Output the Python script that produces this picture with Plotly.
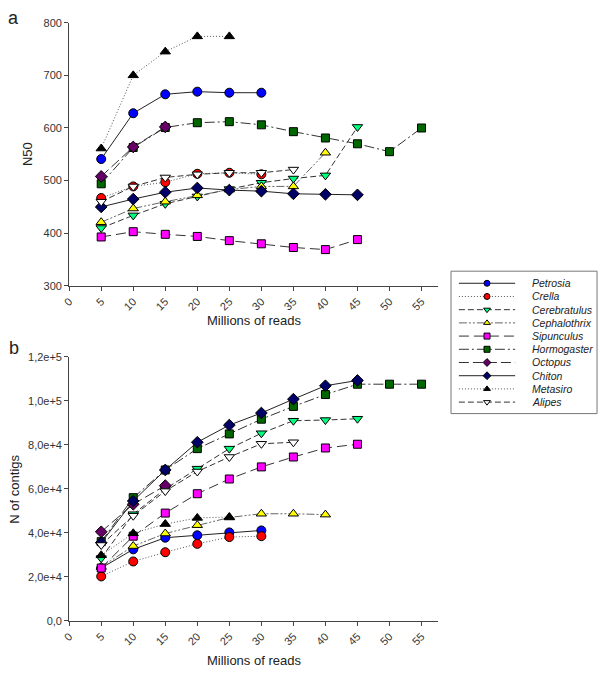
import plotly.graph_objects as go

# ---------------- data ----------------
species = ["Petrosia", "Crella", "Cerebratulus", "Cephalothrix", "Sipunculus",
           "Hormogaster", "Octopus", "Chiton", "Metasiro", "Alipes"]

reads = [5, 10, 15, 20, 25, 30, 35, 40, 45, 50, 55]

n50 = {
    "Petrosia":     [541, 628, 664, 669, 667, 667],
    "Crella":       [467, 489, 497, 513, 515, 512],
    "Cerebratulus": [410, 434, 456, 470, 484, 496, 504, 510, 602],
    "Cephalothrix": [421, 447, 460, 472, 483, 489, 489, 553],
    "Sipunculus":   [393, 403, 398, 394, 386, 380, 373, 369, 388],
    "Hormogaster":  [494, 563, 601, 610, 612, 606, 593, 581, 570, 555, 600],
    "Octopus":      [508, 564, 602],
    "Chiton":       [450, 465, 478, 486, 482, 480, 475, 474, 473],
    "Metasiro":     [561, 700, 745, 774, 774],
    "Alipes":       [460, 489, 506, 512, 515, 515, 521],
}

contigs = {
    "Petrosia":     [24000, 32500, 37800, 38900, 40200, 41100],
    "Crella":       [20200, 27000, 31200, 35000, 38100, 38500],
    "Cerebratulus": [28500, 48500, 60000, 69200, 78300, 85300, 91000, 91300, 91900],
    "Cephalothrix": [24500, 34000, 39700, 43500, 47000, 48700, 48700, 48300],
    "Sipunculus":   [24000, 38500, 49000, 57800, 64500, 70000, 74500, 78600, 80300],
    "Hormogaster":  [36000, 56000, 68600, 78300, 85000, 91700, 97500, 102900, 107600, 107600, 107600],
    "Octopus":      [40500, 53000, 61500],
    "Chiton":       [35500, 54500, 68600, 81200, 89000, 94500, 100800, 106900, 109300],
    "Metasiro":     [29800, 39800, 44000, 46800, 47200],
    "Alipes":       [34500, 47800, 59000, 67900, 74500, 80500, 81200],
}

x_ticks = [0, 5, 10, 15, 20, 25, 30, 35, 40, 45, 50, 55]
n50_ticks = [300, 400, 500, 600, 700, 800]
contig_ticks = [0, 20000, 40000, 60000, 80000, 100000, 120000]
contig_ticklabels = ["0,0", "2,0e+4", "4,0e+4", "6,0e+4", "8,0e+4", "1,0e+5", "1,2e+5"]

# ---------------- styles ----------------
style = {
    "Petrosia":     dict(color="#0000FF", symbol="circle", size=9, dash="solid", lc="#222222"),
    "Crella":       dict(color="#FF0000", symbol="circle", size=9, dash="1px,2px", lc="#555555"),
    "Cerebratulus": dict(color="#00FF7F", symbol="triangle-down", size=9, dash="6px,3px", lc="#333333"),
    "Cephalothrix": dict(color="#FFFF00", symbol="triangle-up", size=9, dash="8px,2px,2px,2px,2px,2px", lc="#666666"),
    "Sipunculus":   dict(color="#FF00FF", symbol="square", size=8, dash="10px,5px", lc="#333333"),
    "Hormogaster":  dict(color="#006600", symbol="square", size=8, dash="10px,3px,2px,3px", lc="#333333"),
    "Octopus":      dict(color="#660066", symbol="diamond", size=9, dash="10px,4px", lc="#333333"),
    "Chiton":       dict(color="#000066", symbol="diamond", size=9, dash="solid", lc="#222222"),
    "Metasiro":     dict(color="#000000", symbol="triangle-up", size=9, dash="1px,2px", lc="#555555"),
    "Alipes":       dict(color="#FFFFFF", symbol="triangle-down", size=9, dash="6px,3px", lc="#333333"),
}

W, H = 600, 673
FONT = "Liberation Sans, Arial, sans-serif"

fig = go.Figure()

for sp in species:
    s = style[sp]
    for vals, xa, ya in [(n50[sp], "x", "y"), (contigs[sp], "x2", "y2")]:
        fig.add_trace(go.Scatter(
            x=reads[:len(vals)], y=vals, xaxis=xa, yaxis=ya,
            mode="lines+markers", showlegend=False,
            line=dict(color=s["lc"], width=1, dash=s["dash"]),
            marker=dict(symbol=s["symbol"], size=s["size"], color=s["color"],
                        line=dict(color="#000000", width=1)),
        ))

# ---------------- custom legend (own axis) ----------------
for i, sp in enumerate(species):
    s = style[sp]
    fig.add_trace(go.Scatter(
        x=[0, 1], y=[i, i], xaxis="x3", yaxis="y3", mode="lines", showlegend=False,
        line=dict(color=s["lc"], width=1, dash=s["dash"]), hoverinfo="skip"))
    fig.add_trace(go.Scatter(
        x=[0.5], y=[i], xaxis="x3", yaxis="y3", mode="markers", showlegend=False,
        marker=dict(symbol=s["symbol"], size=6, color=s["color"],
                    line=dict(color="#000000", width=1)), hoverinfo="skip"))
    fig.add_annotation(x=1.26, y=i, xref="x3", yref="y3", text="<i>%s</i>" % sp,
                       showarrow=False, xanchor="left", yanchor="middle",
                       font=dict(family=FONT, size=10.5, color="#222222"))

fig.add_shape(type="rect", xref="x3 domain", yref="y3 domain", x0=0, x1=1, y0=0, y1=1,
              line=dict(color="#777777", width=1), fillcolor="rgba(0,0,0,0)")

# ---------------- axes ----------------
xdom = [62 / W, 436 / W]
axis_common = dict(showgrid=False, zeroline=False, showline=True, linecolor="#444444",
                   linewidth=1, ticks="outside", ticklen=4, tickcolor="#444444",
                   tickfont=dict(family=FONT, size=11, color="#333333"))

fig.update_layout(
    width=W, height=H, margin=dict(l=0, r=0, t=0, b=0),
    paper_bgcolor="white", plot_bgcolor="white", showlegend=False,
    xaxis=dict(domain=xdom, range=[0, 57.6], tickvals=x_ticks, tickangle=-45,
               anchor="y", **axis_common),
    yaxis=dict(domain=[1 - 285 / H, 1 - 17 / H], range=[300, 800], tickvals=n50_ticks,
               anchor="x", **axis_common),
    xaxis2=dict(domain=xdom, range=[0, 57.6], tickvals=x_ticks, tickangle=-45,
                anchor="y2", **axis_common),
    yaxis2=dict(domain=[1 - 626 / H, 1 - 357.3 / H], range=[0, 120000],
                tickvals=contig_ticks, ticktext=contig_ticklabels, anchor="x2", **axis_common),
    xaxis3=dict(domain=[449 / W, 597 / W], range=[-0.14, 2.456], visible=False, anchor="y3"),
    yaxis3=dict(domain=[1 - 415 / H, 1 - 270 / H], range=[9.87, -0.915], visible=False, anchor="x3"),
)

# ---------------- titles / panel labels ----------------
def ann(text, x, y, size=13, angle=0):
    fig.add_annotation(text=text, x=x / W, y=1 - y / H, xref="paper", yref="paper",
                       showarrow=False, xanchor="center", yanchor="middle", textangle=angle,
                       font=dict(family=FONT, size=size, color="#222222"))

ann("Millions of reads", 249, 320)
ann("Millions of reads", 249, 666)
ann("N50", 20, 151, angle=-90)
ann("N of contigs", 7, 491.5, angle=-90)
ann("a", 6, 12, size=18)
ann("b", 6, 348, size=18)

fig.write_html("out.html", config={"displayModeBar": False},
               post_script="document.body.style.margin='0';document.body.style.overflow='hidden';")
